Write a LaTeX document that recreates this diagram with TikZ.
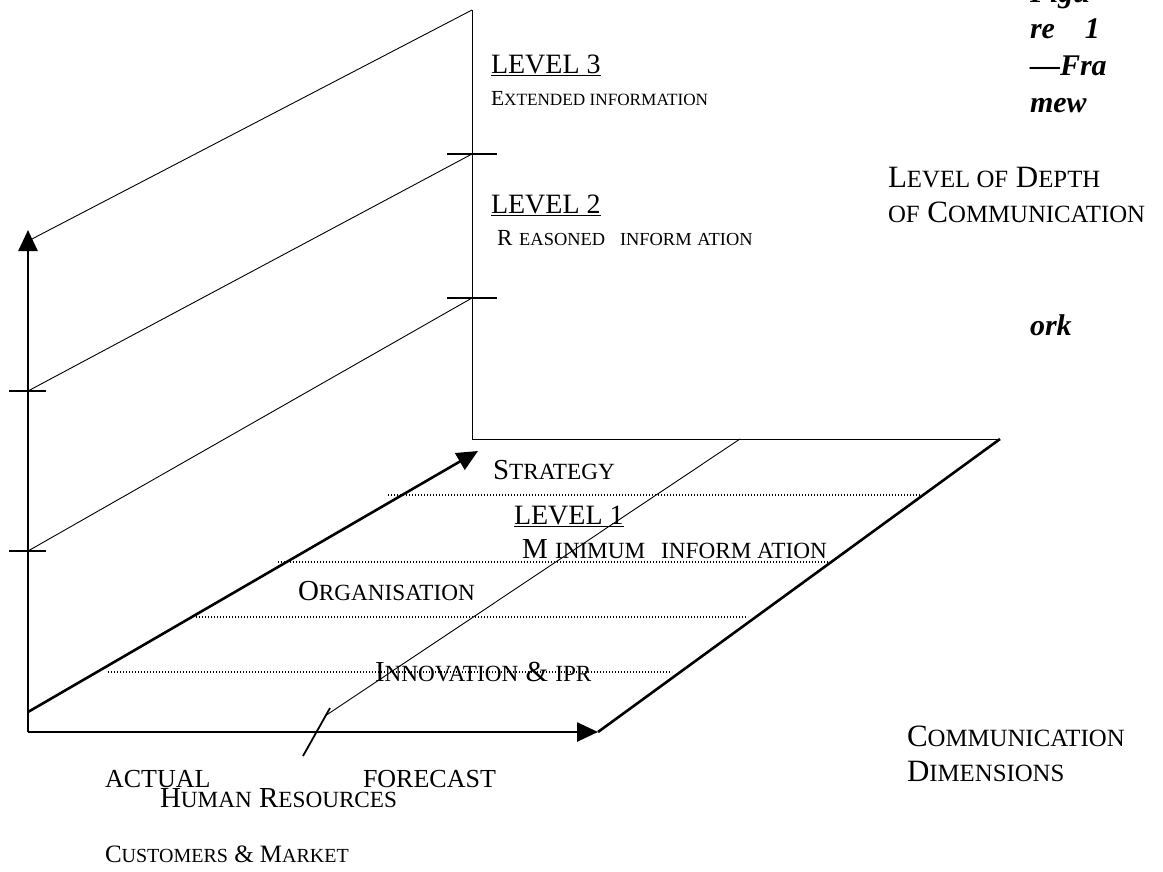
\documentclass[tikz,border=0pt]{standalone}
\usepackage{fontspec}
\setmainfont{Liberation Serif}
\usepackage{graphicx}
\usetikzlibrary{arrows.meta}
% fake small capitals: lower-case letters set as reduced capitals
\newcommand\smc[1]{\scalebox{0.8}{\MakeUppercase{#1}}}
\newcommand\fsz[1]{\fontsize{#1}{#1}\selectfont}

\begin{document}
\begin{tikzpicture}[x=1pt,y=-1pt,
  thinline/.style={line width=0.9pt},
  axisline/.style={line width=2.6pt},
  tickline/.style={line width=1.8pt},
  dotline/.style={line width=1.1pt, dash pattern=on 1pt off 2pt},
  headtip/.style={-{Triangle[length=21pt,width=19pt]}},
  lbl/.style={anchor=base west, inner sep=0pt, outer sep=0pt},
  lvl/.style={lbl, font=\fsz{28}},
  desc/.style={lbl, font=\fsz{21.5}},
  band/.style={lbl, font=\fsz{29}},
  axislbl/.style={lbl, font=\fsz{31}},
  figtitle/.style={lbl, font=\fsz{30}\bfseries\itshape}]
\clip (0,0) rectangle (1163,871);

% ---- key points of the frame ----
\coordinate (O)     at (28,732);
\coordinate (Ytip)  at (28,230);
\coordinate (Xtip)  at (598,732);
\coordinate (Dbase) at (28,712);
\coordinate (Dtip)  at (478,451);
\coordinate (Wbot)  at (472,439);
\coordinate (Wtop)  at (472,10);
\coordinate (Wright) at (1000,439);
\coordinate (Wmid)  at (740,439);
\coordinate (Mlow)  at (325,716);
\coordinate (Sa)    at (303,756);
\coordinate (Sb)    at (330,708);
\coordinate (Ltop)  at (30,240);
\coordinate (Lb)    at (28,391);
\coordinate (La)    at (28,551);
\coordinate (Wb)    at (472,154);
\coordinate (Wa)    at (472,298);

% ---- back wall and floor outline ----
\draw[thinline] (Wtop) -- (Wbot) -- (Wright);
\draw[thinline] (Ltop) -- (Wtop);
\draw[thinline] (Lb) -- (Wb);
\draw[thinline] (La) -- (Wa);
\draw[thinline] (Wmid) -- (Mlow);
\draw[tickline] (Sa) -- (Sb);

% ---- level tick marks ----
\draw[tickline] ([xshift=-25pt]Wb) -- ([xshift=25pt]Wb);
\draw[tickline] ([xshift=-25pt]Wa) -- ([xshift=25pt]Wa);
\draw[tickline] ([xshift=-19pt]Lb) -- ([xshift=18pt]Lb);
\draw[tickline] ([xshift=-19pt]La) -- ([xshift=18pt]La);

% ---- dotted band separators on the floor ----
\coordinate (A1) at (388,495); \coordinate (B1) at (921,495);
\coordinate (A2) at (278,562); \coordinate (B2) at (828,562);
\coordinate (A3) at (196,617); \coordinate (B3) at (748,617);
\coordinate (A4) at (108,672); \coordinate (B4) at (672,672);
\draw[dotline] (A1) -- (B1);
\draw[dotline] (A2) -- (B2);
\draw[dotline] (A3) -- (B3);
\draw[dotline] (A4) -- (B4);

% ---- axes ----
\draw[axisline] (Wright) -- (Xtip);
\draw[axisline, headtip] (O) -- (Ytip);
\draw[axisline, headtip] (O) -- (Xtip);
\draw[axisline, headtip] (Dbase) -- (Dtip);

% ---- wall labels ----
\node[lvl]  (l3)  at (491,73)  {\underline{LEVEL 3}};
\node[desc] (l3d) at (491,105) {E\smc{xtended information}};
\node[lvl]  (l2)  at (491,213) {\underline{LEVEL 2}};
\node[desc, font=\fsz{23}] (l2d) at (497,245) {R\hspace{0.3em}\smc{easoned}\hspace{0.65em}\smc{inform}\hspace{0.25em}\smc{ation}};

% ---- floor labels ----
\node[band] (strat) at (493,479) {S\smc{trategy}};
\node[lvl]  (l1)    at (514,524) {\underline{LEVEL 1}};
\node[band] (l1d)   at (522,558) {M\hspace{0.25em}\smc{inimum}\hspace{0.55em}\smc{inform}\hspace{0.2em}\smc{ation}};
\node[band] (org)   at (298,600) {O\smc{rganisation}};
\node[band] (innov) at (375,681) {I\smc{nnovation} \& \smc{ipr}};

% ---- axis labels ----
\node[axislbl] (depth1) at (888,187) {L\smc{evel of} D\smc{epth}};
\node[axislbl] (depth2) at (888,222) {\smc{of} C\smc{ommunication}};
\node[axislbl] (dim1) at (907,746) {C\smc{ommunication}};
\node[axislbl] (dim2) at (907,781) {D\smc{imensions}};
\node[lbl, font=\fsz{26}] (actual) at (105,787) {ACTUAL};
\node[lbl, font=\fsz{26}] (fcast)  at (363,787) {FORECAST};
\node[lbl, font=\fsz{29}] (hr)     at (160,807) {H\smc{uman} R\smc{esources}};
\node[lbl, font=\fsz{25}] (cust)   at (105,862) {C\smc{ustomers} \& M\smc{arket}};

% ---- wrapped figure caption ----
\node[figtitle] (cap1) at (1030,2)   {Figu};
\node[figtitle] (cap2) at (1030,38)  {re\hspace{1em}1};
\node[figtitle] (cap3) at (1030,75)  {---Fra};
\node[figtitle] (cap4) at (1030,112) {mew};
\node[figtitle] (cap5) at (1030,335) {ork};
\end{tikzpicture}
\end{document}
